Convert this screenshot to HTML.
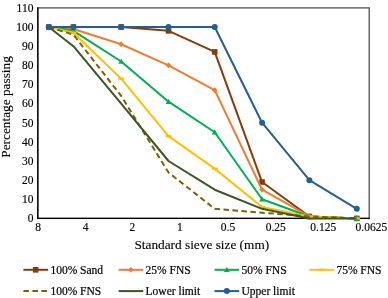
<!DOCTYPE html>
<html><head><meta charset="utf-8"><style>
html,body{margin:0;padding:0;background:#fff;}
body{width:388px;height:298px;overflow:hidden;}
svg{display:block;will-change:transform;}
.t{font-family:"Liberation Serif",serif;font-size:11.5px;fill:#000;stroke:#000;stroke-width:0.15px;}
.a{font-family:"Liberation Serif",serif;font-size:13.3px;fill:#000;stroke:#000;stroke-width:0.12px;}
.l{font-family:"Liberation Serif",serif;font-size:11.5px;fill:#000;stroke:#000;stroke-width:0.2px;}
</style></head><body>
<svg width="388" height="298" viewBox="0 0 388 298">
<rect width="388" height="298" fill="#fff"/>
<rect x="37.8" y="7.9" width="331.4" height="210.5" fill="none" stroke="#505050" stroke-width="1.3"/>
<path d="M37.8 7.25V218.4H369.84999999999997" fill="none" stroke="#000" stroke-width="1.3"/>
<polyline points="48.80,27.04 73.41,27.04 121.18,27.04 168.52,30.86 214.72,51.91 262.06,182.04 309.40,216.49 356.75,218.40" fill="none" stroke="#843C0C" stroke-width="2.0" stroke-linejoin="round"/>
<rect x="46.00" y="24.24" width="5.6" height="5.6" fill="#843C0C"/>
<rect x="70.61" y="24.24" width="5.6" height="5.6" fill="#843C0C"/>
<rect x="118.38" y="24.24" width="5.6" height="5.6" fill="#843C0C"/>
<rect x="165.72" y="28.06" width="5.6" height="5.6" fill="#843C0C"/>
<rect x="211.92" y="49.11" width="5.6" height="5.6" fill="#843C0C"/>
<rect x="259.26" y="179.24" width="5.6" height="5.6" fill="#843C0C"/>
<rect x="306.60" y="213.69" width="5.6" height="5.6" fill="#843C0C"/>
<rect x="353.95" y="215.60" width="5.6" height="5.6" fill="#843C0C"/>
<polyline points="48.80,27.04 73.41,28.95 121.18,44.26 168.52,65.31 214.72,90.19 262.06,189.70 309.40,216.49 356.75,218.40" fill="none" stroke="#ED7D31" stroke-width="2.0" stroke-linejoin="round"/>
<path d="M48.80 24.14L51.70 27.04L48.80 29.94L45.90 27.04Z" fill="#ED7D31"/>
<path d="M73.41 26.05L76.31 28.95L73.41 31.85L70.51 28.95Z" fill="#ED7D31"/>
<path d="M121.18 41.36L124.08 44.26L121.18 47.16L118.28 44.26Z" fill="#ED7D31"/>
<path d="M168.52 62.41L171.42 65.31L168.52 68.21L165.62 65.31Z" fill="#ED7D31"/>
<path d="M214.72 87.29L217.62 90.19L214.72 93.09L211.82 90.19Z" fill="#ED7D31"/>
<path d="M262.06 186.80L264.96 189.70L262.06 192.60L259.16 189.70Z" fill="#ED7D31"/>
<path d="M309.40 213.59L312.30 216.49L309.40 219.39L306.50 216.49Z" fill="#ED7D31"/>
<path d="M356.75 215.50L359.65 218.40L356.75 221.30L353.85 218.40Z" fill="#ED7D31"/>
<polyline points="48.80,27.04 73.41,30.86 121.18,61.48 168.52,101.67 214.72,132.29 262.06,199.26 309.40,216.49 356.75,218.40" fill="none" stroke="#00B050" stroke-width="2.0" stroke-linejoin="round"/>
<path d="M48.80 24.04L51.70 29.34L45.90 29.34Z" fill="#00B050"/>
<path d="M73.41 27.86L76.31 33.16L70.51 33.16Z" fill="#00B050"/>
<path d="M121.18 58.48L124.08 63.78L118.28 63.78Z" fill="#00B050"/>
<path d="M168.52 98.67L171.42 103.97L165.62 103.97Z" fill="#00B050"/>
<path d="M214.72 129.29L217.62 134.59L211.82 134.59Z" fill="#00B050"/>
<path d="M262.06 196.26L264.96 201.56L259.16 201.56Z" fill="#00B050"/>
<path d="M309.40 213.49L312.30 218.79L306.50 218.79Z" fill="#00B050"/>
<path d="M356.75 215.40L359.65 220.70L353.85 220.70Z" fill="#00B050"/>
<polyline points="48.80,27.04 73.41,32.78 121.18,78.70 168.52,136.11 214.72,168.65 262.06,206.92 309.40,216.49 356.75,218.40" fill="none" stroke="#FFC000" stroke-width="2.0" stroke-linejoin="round"/>
<rect x="45.80" y="25.94" width="6" height="2.2" fill="#FFC000"/>
<rect x="70.41" y="31.68" width="6" height="2.2" fill="#FFC000"/>
<rect x="118.18" y="77.60" width="6" height="2.2" fill="#FFC000"/>
<rect x="165.52" y="135.01" width="6" height="2.2" fill="#FFC000"/>
<rect x="211.72" y="167.55" width="6" height="2.2" fill="#FFC000"/>
<rect x="259.06" y="205.82" width="6" height="2.2" fill="#FFC000"/>
<rect x="306.40" y="215.39" width="6" height="2.2" fill="#FFC000"/>
<rect x="353.75" y="217.30" width="6" height="2.2" fill="#FFC000"/>
<polyline points="48.80,27.04 73.41,34.69 121.18,95.93 168.52,172.47 214.72,208.83 262.06,212.66 309.40,216.49 356.75,218.40" fill="none" stroke="#7F6000" stroke-width="2.0" stroke-linejoin="round" stroke-dasharray="5.5,3.5"/>
<polyline points="48.80,27.04 73.41,46.17 121.18,103.58 168.52,160.99 214.72,189.70 262.06,208.83 309.40,218.40 356.75,218.40" fill="none" stroke="#385723" stroke-width="2.0" stroke-linejoin="round"/>
<polyline points="48.80,27.04 73.41,27.04 121.18,27.04 168.52,27.04 214.72,27.04 262.06,122.72 309.40,180.13 356.75,208.83" fill="none" stroke="#255E91" stroke-width="2.0" stroke-linejoin="round"/>
<circle cx="48.80" cy="27.04" r="3" fill="#255E91"/>
<circle cx="73.41" cy="27.04" r="3" fill="#255E91"/>
<circle cx="121.18" cy="27.04" r="3" fill="#255E91"/>
<circle cx="168.52" cy="27.04" r="3" fill="#255E91"/>
<circle cx="214.72" cy="27.04" r="3" fill="#255E91"/>
<circle cx="262.06" cy="122.72" r="3" fill="#255E91"/>
<circle cx="309.40" cy="180.13" r="3" fill="#255E91"/>
<circle cx="356.75" cy="208.83" r="3" fill="#255E91"/>
<text x="33.4" y="222.20" text-anchor="end" class="t">0</text>
<text x="33.4" y="203.06" text-anchor="end" class="t">10</text>
<text x="33.4" y="183.93" text-anchor="end" class="t">20</text>
<text x="33.4" y="164.79" text-anchor="end" class="t">30</text>
<text x="33.4" y="145.65" text-anchor="end" class="t">40</text>
<text x="33.4" y="126.52" text-anchor="end" class="t">50</text>
<text x="33.4" y="107.38" text-anchor="end" class="t">60</text>
<text x="33.4" y="88.25" text-anchor="end" class="t">70</text>
<text x="33.4" y="69.11" text-anchor="end" class="t">80</text>
<text x="33.4" y="49.97" text-anchor="end" class="t">90</text>
<text x="33.4" y="30.84" text-anchor="end" class="t">100</text>
<text x="33.4" y="11.70" text-anchor="end" class="t">110</text>
<text x="38.0" y="230.8" text-anchor="middle" class="t">8</text>
<text x="85.6" y="230.8" text-anchor="middle" class="t">4</text>
<text x="132.4" y="230.8" text-anchor="middle" class="t">2</text>
<text x="179.8" y="230.8" text-anchor="middle" class="t">1</text>
<text x="228.0" y="230.8" text-anchor="middle" class="t">0.5</text>
<text x="275.7" y="230.8" text-anchor="middle" class="t">0.25</text>
<text x="323.2" y="230.8" text-anchor="middle" class="t">0.125</text>
<text x="371.4" y="230.8" text-anchor="middle" class="t">0.0625</text>
<text x="134.4" y="249.3" class="a">Standard sieve size (mm)</text>
<text transform="translate(10.1,157.7) rotate(-90)" x="0" y="0" class="a">Percentage passing</text>
<line x1="23.4" y1="269.8" x2="48.099999999999994" y2="269.8" stroke="#843C0C" stroke-width="2.0"/>
<rect x="32.90" y="267.00" width="5.6" height="5.6" fill="#843C0C"/>
<text x="50.4" y="273.7" class="l">100% Sand</text>
<line x1="118.6" y1="269.8" x2="143.29999999999998" y2="269.8" stroke="#ED7D31" stroke-width="2.0"/>
<path d="M130.90 266.90L133.80 269.80L130.90 272.70L128.00 269.80Z" fill="#ED7D31"/>
<text x="145.6" y="273.7" class="l">25% FNS</text>
<line x1="214.5" y1="269.8" x2="239.2" y2="269.8" stroke="#00B050" stroke-width="2.0"/>
<path d="M226.80 266.80L229.70 272.10L223.90 272.10Z" fill="#00B050"/>
<text x="241.5" y="273.7" class="l">50% FNS</text>
<line x1="309.4" y1="269.8" x2="334.09999999999997" y2="269.8" stroke="#FFC000" stroke-width="2.0"/>
<rect x="318.70" y="268.70" width="6" height="2.2" fill="#FFC000"/>
<text x="336.4" y="273.7" class="l">75% FNS</text>
<line x1="23.4" y1="291.1" x2="48.099999999999994" y2="291.1" stroke="#7F6000" stroke-width="2.0" stroke-dasharray="5.5,3.5"/>
<text x="50.4" y="294.7" class="l">100% FNS</text>
<line x1="118.6" y1="291.1" x2="143.29999999999998" y2="291.1" stroke="#385723" stroke-width="2.0"/>
<text x="145.6" y="294.7" class="l">Lower limit</text>
<line x1="214.5" y1="291.1" x2="239.2" y2="291.1" stroke="#255E91" stroke-width="2.0"/>
<circle cx="226.80" cy="291.10" r="3" fill="#255E91"/>
<text x="241.5" y="294.7" class="l">Upper limit</text>
</svg>
</body></html>
